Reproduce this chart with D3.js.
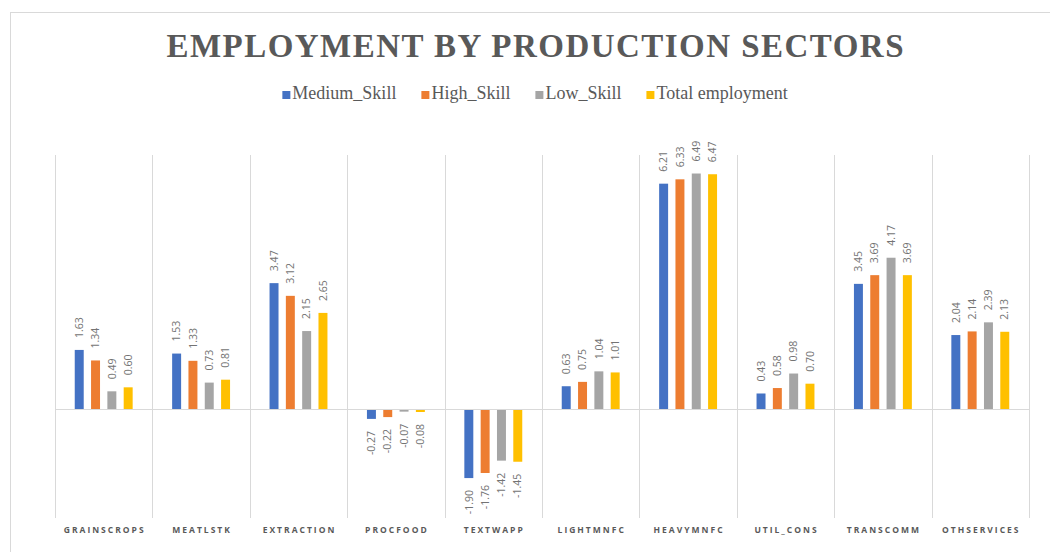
<!DOCTYPE html>
<html>
<head>
<meta charset="utf-8">
<script src="https://cdn.jsdelivr.net/npm/d3@7"></script>
<style>
  html, body { margin: 0; padding: 0; background: #fff; }
  svg { display: block; }
</style>
</head>
<body>
<svg id="chart" width="1050" height="552"></svg>
<script>
// Employment change by production sector, per skill group
const categories = ["GRAINSCROPS", "MEATLSTK", "EXTRACTION", "PROCFOOD", "TEXTWAPP",
                    "LIGHTMNFC", "HEAVYMNFC", "UTIL_CONS", "TRANSCOMM", "OTHSERVICES"];
const seriesNames = ["Medium_Skill", "High_Skill", "Low_Skill", "Total employment"];
const mediumSkill = [1.63, 1.53, 3.47, -0.27, -1.90, 0.63, 6.21, 0.43, 3.45, 2.04];
const highSkill   = [1.34, 1.33, 3.12, -0.22, -1.76, 0.75, 6.33, 0.58, 3.69, 2.14];
const lowSkill    = [0.49, 0.73, 2.15, -0.07, -1.42, 1.04, 6.49, 0.98, 4.17, 2.39];
const totalEmp    = [0.60, 0.81, 2.65, -0.08, -1.45, 1.01, 6.47, 0.70, 3.69, 2.13];
const seriesValues = [mediumSkill, highSkill, lowSkill, totalEmp];
const colors = ["#4472C4", "#ED7D31", "#A5A5A5", "#FFC000"];
const yDomain = [-3, 7];

const svg = d3.select("#chart");
const W = 1050, H = 552;
const plot = { left: 55, right: 1029, top: 155, bottom: 518 };
const centerX = 535;
const fmt = d3.formatLocale({ decimal: ".", thousands: ",", grouping: [3], currency: ["", ""], minus: "-" }).format(".2f");

// chart frame
svg.append("rect")
  .attr("x", 10.5).attr("y", 12.5)
  .attr("width", W + 20).attr("height", H + 20)
  .attr("fill", "#fff").attr("stroke", "#d9d9d9").attr("stroke-width", 1);

// title
svg.append("text")
  .attr("x", centerX).attr("y", 56.5)
  .attr("text-anchor", "middle")
  .attr("font-family", "'Liberation Serif', 'Times New Roman', serif")
  .attr("font-weight", "bold")
  .attr("font-size", 33)
  .attr("fill", "#595959")
  .attr("textLength", 737)
  .attr("lengthAdjust", "spacing")
  .text("EMPLOYMENT BY PRODUCTION SECTORS");

// legend
const legend = svg.append("g");
let lx = 0;
const legendGap = 25;
seriesNames.forEach((name, i) => {
  const g = legend.append("g").attr("transform", `translate(${lx},0)`);
  g.append("rect").attr("x", 0).attr("y", -8).attr("width", 8).attr("height", 8).attr("fill", colors[i]);
  const t = g.append("text")
    .attr("x", 10).attr("y", 0)
    .attr("font-family", "'Liberation Serif', 'Times New Roman', serif")
    .attr("font-size", 18)
    .attr("fill", "#595959")
    .text(name);
  lx += 10 + t.node().getComputedTextLength() + legendGap;
});
const legendWidth = lx - legendGap;
legend.attr("transform", `translate(${centerX - legendWidth / 2},99)`);

// scales
const x = d3.scaleBand().domain(categories).range([plot.left, plot.right]).padding(0);
const xInner = d3.scaleBand().domain(seriesNames).range([0, x.bandwidth()])
  .paddingInner(0.45).paddingOuter(1.21);
const y = d3.scaleLinear().domain(yDomain).range([plot.bottom, plot.top]);

// vertical category separators
svg.append("g").selectAll("line")
  .data(d3.range(categories.length + 1))
  .join("line")
  .attr("x1", i => Math.round(plot.left + i * x.step()) + 0.5)
  .attr("x2", i => Math.round(plot.left + i * x.step()) + 0.5)
  .attr("y1", plot.top).attr("y2", plot.bottom)
  .attr("stroke", "#d9d9d9").attr("stroke-width", 1);

// bars and rotated value labels
const groups = svg.append("g").selectAll("g")
  .data(categories)
  .join("g")
  .attr("transform", d => `translate(${x(d)},0)`);

const rows = ci => seriesNames.map((s, si) => ({ s, si, v: seriesValues[si][ci] }));

groups.each(function (c, ci) {
  const g = d3.select(this);
  const data = rows(ci);
  g.selectAll("rect")
    .data(data)
    .join("rect")
    .attr("x", d => xInner(d.s))
    .attr("width", xInner.bandwidth())
    .attr("y", d => y(Math.max(0, d.v)))
    .attr("height", d => Math.abs(y(d.v) - y(0)))
    .attr("fill", d => colors[d.si]);

  g.selectAll("text")
    .data(data)
    .join("text")
    .attr("transform", d => {
      const cx = xInner(d.s) + xInner.bandwidth() / 2;
      const ty = d.v >= 0 ? y(d.v) - 12 : Math.max(y(0) + 14, y(d.v) + 12);
      return `translate(${cx},${ty}) rotate(-90)`;
    })
    .attr("dy", "0.35em")
    .attr("text-anchor", d => d.v >= 0 ? "start" : "end")
    .attr("font-family", "'Open Sans', 'Noto Sans', sans-serif")
    .attr("font-size", 10.5)
    .attr("fill", "#737373")
    .text(d => fmt(d.v));
});

// zero axis line
svg.append("line")
  .attr("x1", plot.left).attr("x2", plot.right)
  .attr("y1", Math.round(y(0)) + 0.5).attr("y2", Math.round(y(0)) + 0.5)
  .attr("stroke", "#d9d9d9").attr("stroke-width", 1);

// category labels
svg.append("g").selectAll("text")
  .data(categories)
  .join("text")
  .attr("x", d => x(d) + x.bandwidth() / 2 + 1)
  .attr("y", 533)
  .attr("text-anchor", "middle")
  .attr("font-family", "'Open Sans', 'Noto Sans', sans-serif")
  .attr("font-weight", "bold")
  .attr("font-size", 8.5)
  .attr("letter-spacing", "2px")
  .attr("fill", "#595959")
  .text(d => d);
</script>
</body>
</html>
